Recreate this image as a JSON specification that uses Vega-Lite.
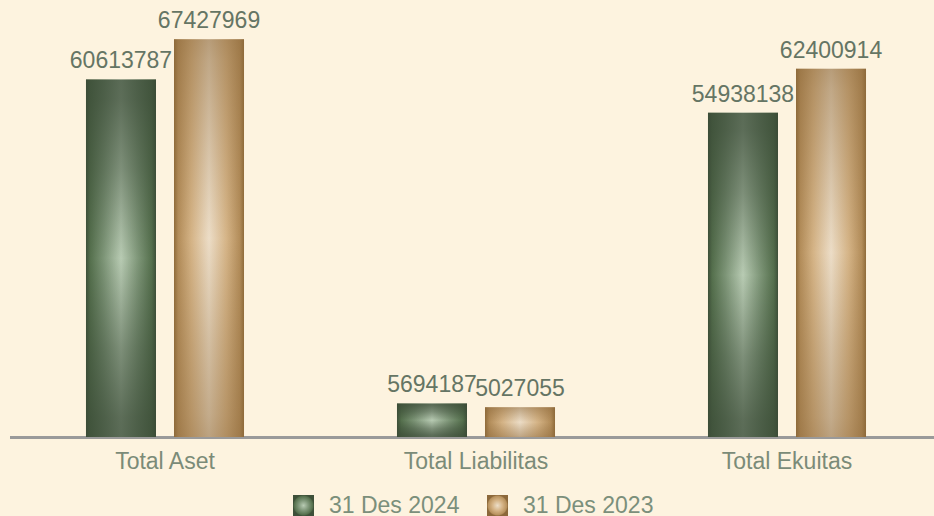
{
  "$schema": "https://vega.github.io/schema/vega-lite/v6.json",
  "width": 924,
  "height": 413,
  "autosize": "none",
  "padding": {"left": 10, "top": 24, "right": 0, "bottom": 79},
  "background": "#fdf3df",
  "config": {"view": {"stroke": null}, "font": "Liberation Sans"},
  "data": {"values": [
    {"item": "Total Aset", "period": "31 Des 2024", "value": 60613787},
    {"item": "Total Aset", "period": "31 Des 2023", "value": 67427969},
    {"item": "Total Liabilitas", "period": "31 Des 2024", "value": 5694187},
    {"item": "Total Liabilitas", "period": "31 Des 2023", "value": 5027055},
    {"item": "Total Ekuitas", "period": "31 Des 2024", "value": 54938138},
    {"item": "Total Ekuitas", "period": "31 Des 2023", "value": 62400914}
  ]},
  "encoding": {
    "x": {
      "field": "item", "type": "nominal",
      "sort": ["Total Aset", "Total Liabilitas", "Total Ekuitas"],
      "scale": {"range": [-0.5, 932.5], "paddingInner": 0, "paddingOuter": 0},
      "axis": {"title": null, "ticks": false, "grid": false, "labelAngle": 0, "domainColor": "#9a9a9a", "domainWidth": 3, "labelFontSize": 23, "labelColor": "#7b8b78", "labelPadding": 13}
    },
    "xOffset": {
      "field": "period", "type": "nominal",
      "sort": ["31 Des 2024", "31 Des 2023"],
      "scale": {"paddingInner": 0.2045, "paddingOuter": 0.869}
    },
    "y": {"field": "value", "type": "quantitative", "scale": {"domain": [0, 70000000]}, "axis": null}
  },
  "layer": [
    {
      "transform": [{"filter": "datum.period === '31 Des 2024'"}],
      "mark": {"type": "bar", "fill": {"gradient": "linear", "x1": 0, "y1": 0, "x2": 1, "y2": 0,
        "stops": [{"offset": 0, "color": "#3e5039"}, {"offset": 0.06, "color": "#55704d"}, {"offset": 0.25, "color": "#7d9577"}, {"offset": 0.5, "color": "#b8cbb3"}, {"offset": 0.75, "color": "#7d9577"}, {"offset": 0.94, "color": "#55704d"}, {"offset": 1, "color": "#3e5039"}]}}
    },
    {
      "transform": [{"filter": "datum.period === '31 Des 2024'"}],
      "mark": {"type": "bar", "fill": {"gradient": "linear", "x1": 0, "y1": 0, "x2": 0, "y2": 1,
        "stops": [{"offset": 0, "color": "rgba(58,74,54,0.74)"}, {"offset": 0.055, "color": "rgba(58,74,54,0.72)"}, {"offset": 0.25, "color": "rgba(58,74,54,0.46)"}, {"offset": 0.5, "color": "rgba(58,74,54,0)"}, {"offset": 0.75, "color": "rgba(58,74,54,0.46)"}, {"offset": 0.945, "color": "rgba(58,74,54,0.72)"}, {"offset": 1, "color": "rgba(58,74,54,0.74)"}]}}
    },
    {
      "transform": [{"filter": "datum.period === '31 Des 2023'"}],
      "mark": {"type": "bar", "fill": {"gradient": "linear", "x1": 0, "y1": 0, "x2": 1, "y2": 0,
        "stops": [{"offset": 0, "color": "#8f6b3a"}, {"offset": 0.06, "color": "#b38d5a"}, {"offset": 0.25, "color": "#d5b487"}, {"offset": 0.5, "color": "#ecddc7"}, {"offset": 0.75, "color": "#d5b487"}, {"offset": 0.94, "color": "#b38d5a"}, {"offset": 1, "color": "#8f6b3a"}]}}
    },
    {
      "transform": [{"filter": "datum.period === '31 Des 2023'"}],
      "mark": {"type": "bar", "fill": {"gradient": "linear", "x1": 0, "y1": 0, "x2": 0, "y2": 1,
        "stops": [{"offset": 0, "color": "rgba(140,104,58,0.55)"}, {"offset": 0.055, "color": "rgba(140,104,58,0.45)"}, {"offset": 0.25, "color": "rgba(140,104,58,0.25)"}, {"offset": 0.5, "color": "rgba(140,104,58,0)"}, {"offset": 0.75, "color": "rgba(140,104,58,0.25)"}, {"offset": 0.945, "color": "rgba(140,104,58,0.42)"}, {"offset": 1, "color": "rgba(140,104,58,0.5)"}]}}
    },
    {
      "mark": {"type": "text", "baseline": "alphabetic", "dy": -11, "fontSize": 23, "color": "#657564"},
      "encoding": {"text": {"field": "value", "type": "quantitative", "format": "d"}}
    },
    {
      "transform": [{"filter": "datum.period === '31 Des 2024'"}],
      "mark": {"type": "point", "filled": true, "size": 0, "strokeWidth": 0,
        "fill": {"gradient": "radial", "x1": 0.5, "y1": 0.5, "r1": 0, "x2": 0.5, "y2": 0.5, "r2": 0.5,
          "stops": [{"offset": 0, "color": "#b8cbb3"}, {"offset": 0.5, "color": "#7d9577"}, {"offset": 0.88, "color": "#55704d"}, {"offset": 1, "color": "#3e5039"}]}},
      "encoding": {
        "shape": {
          "field": "period", "type": "nominal",
          "scale": {"domain": ["31 Des 2024"], "range": ["square"]},
          "legend": {
            "title": null, "orient": "none", "direction": "horizontal",
            "legendX": 282, "legendY": 470, "padding": 0,
            "symbolType": "square", "symbolSize": 441, "symbolOpacity": 1, "symbolStrokeWidth": 0,
            "labelFontSize": 23, "labelColor": "#7b8f7b", "labelOffset": 14
          }
        }
      }
    },
    {
      "transform": [{"filter": "datum.period === '31 Des 2023'"}],
      "mark": {"type": "point", "filled": true, "size": 0, "strokeWidth": 0,
        "fill": {"gradient": "radial", "x1": 0.5, "y1": 0.5, "r1": 0, "x2": 0.5, "y2": 0.5, "r2": 0.5,
          "stops": [{"offset": 0, "color": "#ecdec8"}, {"offset": 0.5, "color": "#d5b385"}, {"offset": 0.88, "color": "#b8925e"}, {"offset": 1, "color": "#8c683a"}]}},
      "encoding": {
        "opacity": {
          "field": "period", "type": "ordinal",
          "scale": {"domain": ["31 Des 2023"], "range": [1]},
          "legend": {
            "title": null, "orient": "none", "direction": "horizontal",
            "legendX": 476, "legendY": 470, "padding": 0,
            "symbolType": "square", "symbolSize": 441, "symbolOpacity": 1, "symbolStrokeWidth": 0,
            "labelFontSize": 23, "labelColor": "#7b8f7b", "labelOffset": 14
          }
        }
      }
    }
  ]
}
